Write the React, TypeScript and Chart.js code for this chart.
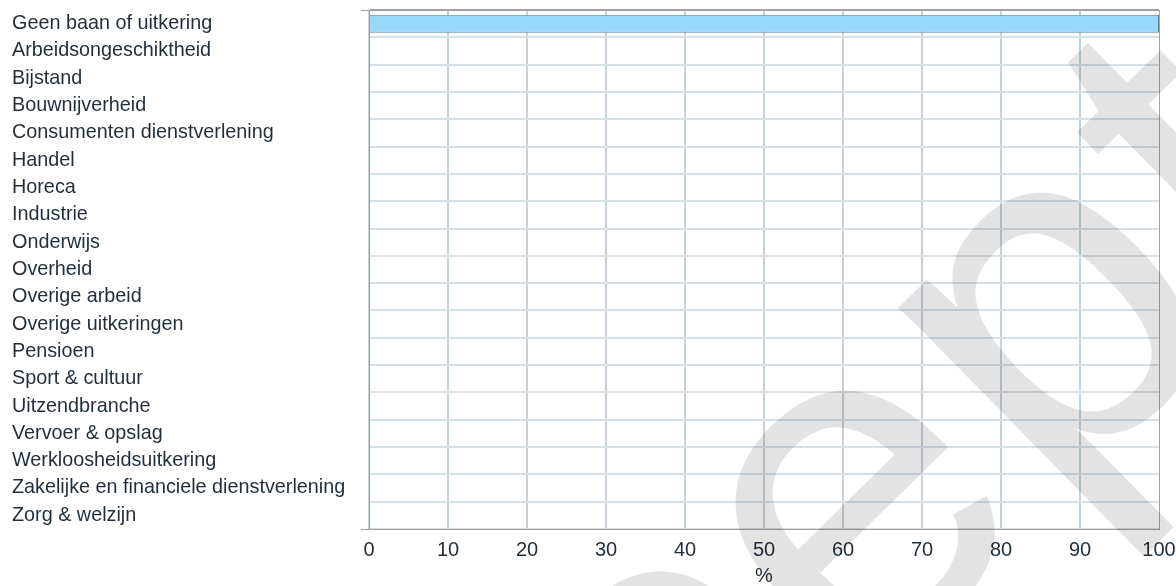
import React, { useEffect, useRef } from "react";
import { Chart, registerables } from "chart.js";

Chart.register(...registerables);

const categories = [
  "Geen baan of uitkering",
  "Arbeidsongeschiktheid",
  "Bijstand",
  "Bouwnijverheid",
  "Consumenten dienstverlening",
  "Handel",
  "Horeca",
  "Industrie",
  "Onderwijs",
  "Overheid",
  "Overige arbeid",
  "Overige uitkeringen",
  "Pensioen",
  "Sport & cultuur",
  "Uitzendbranche",
  "Vervoer & opslag",
  "Werkloosheidsuitkering",
  "Zakelijke en financiele dienstverlening",
  "Zorg & welzijn",
];

const percentages = [100, 0, 0, 0, 0, 0, 0, 0, 0, 0, 0, 0, 0, 0, 0, 0, 0, 0, 0];

const xTickValues = [0, 10, 20, 30, 40, 50, 60, 70, 80, 90, 100];
const xAxisTitle = "%";
const watermarkText = "Concept";

const FONT = '"Liberation Sans", Arial, Helvetica, sans-serif';
const TEXT_COLOR = "#1f2e3d";

const framePlugin = {
  id: "frameLines",
  afterDraw(chart: any) {
    const { ctx, chartArea } = chart;
    ctx.save();
    ctx.strokeStyle = "#a3a3a3";
    ctx.lineWidth = 1;
    ctx.beginPath();
    ctx.moveTo(chartArea.left - 8, chartArea.top + 0.5);
    ctx.lineTo(chartArea.right, chartArea.top + 0.5);
    ctx.moveTo(chartArea.left - 8, chartArea.bottom + 0.5);
    ctx.lineTo(chartArea.left, chartArea.bottom + 0.5);
    ctx.stroke();
    ctx.restore();
  },
};

const watermarkPlugin = {
  id: "watermark",
  afterDraw(chart: any) {
    const { ctx } = chart;
    ctx.save();
    ctx.font = `475px ${FONT}`;
    try {
      (ctx as any).letterSpacing = "10px";
    } catch (e) {
      /* ignore */
    }
    ctx.fillStyle = "rgba(0,0,0,0.11)";
    ctx.textAlign = "left";
    ctx.textBaseline = "alphabetic";
    ctx.translate(37, 1506);
    ctx.rotate((-44.5 * Math.PI) / 180);
    ctx.fillText(watermarkText, 0, 0);
    ctx.restore();
  },
};

export default function App() {
  const canvasRef = useRef<HTMLCanvasElement | null>(null);

  useEffect(() => {
    if (!canvasRef.current) return;
    const chart = new Chart(canvasRef.current, {
      type: "bar",
      data: {
        labels: categories,
        datasets: [
          {
            data: percentages,
            backgroundColor: "#97d8fb",
            borderColor: "#5b7f98",
            borderWidth: (c: any) => (c.raw > 0 ? 1 : 0),
            borderSkipped: "start",
            barPercentage: 0.66,
            categoryPercentage: 1,
          },
        ],
      },
      options: {
        indexAxis: "y",
        animation: false,
        responsive: false,
        devicePixelRatio: 1,
        layout: { padding: { left: 12, right: 17, top: 10, bottom: 0 } },
        plugins: {
          legend: { display: false },
          tooltip: { enabled: false },
          title: { display: false },
        },
        scales: {
          x: {
            type: "linear",
            min: xTickValues[0],
            max: xTickValues[xTickValues.length - 1],
            afterBuildTicks: (s: any) => {
              s.ticks = xTickValues.map((v) => ({ value: v }));
            },
            afterFit: (s: any) => {
              s.height = 57;
              s.paddingLeft = 0;
              s.paddingRight = 0;
            },
            grid: {
              color: (c: any) =>
                c.tick && c.tick.value === 100 ? "#a3a3a3" : "#c4d3dc",
              lineWidth: (c: any) => (c.tick && c.tick.value === 100 ? 1 : 2),
              drawTicks: false,
            },
            border: { display: true, color: "#9c9c9c", width: 1 },
            ticks: {
              padding: 9,
              autoSkip: false,
              maxRotation: 0,
              color: TEXT_COLOR,
              font: { family: FONT, size: 20 },
            },
            title: {
              display: true,
              text: xAxisTitle,
              color: TEXT_COLOR,
              padding: 0,
              font: { family: FONT, size: 20, lineHeight: 1 },
            },
          },
          y: {
            type: "category",
            afterFit: (s: any) => {
              s.width = 357;
              s.paddingTop = 0;
              s.paddingBottom = 0;
            },
            grid: {
              color: (c: any) => (c.index === 0 ? "#a3a3a3" : "#d5e0e7"),
              lineWidth: (c: any) => (c.index === 0 ? 1 : 2),
              drawTicks: false,
              offset: true,
            },
            border: { display: true, color: "#9c9c9c", width: 1 },
            ticks: {
              crossAlign: "far",
              padding: 0,
              autoSkip: false,
              color: TEXT_COLOR,
              font: { family: FONT, size: 19.8 },
            },
          },
        },
      },
      plugins: [framePlugin, watermarkPlugin],
    } as any);
    return () => chart.destroy();
  }, []);

  return (
    <div style={{ position: "absolute", left: 0, top: 0, width: 1176, height: 586, background: "#ffffff" }}>
      <canvas ref={canvasRef} width={1176} height={586} style={{ display: "block" }} />
    </div>
  );
}
